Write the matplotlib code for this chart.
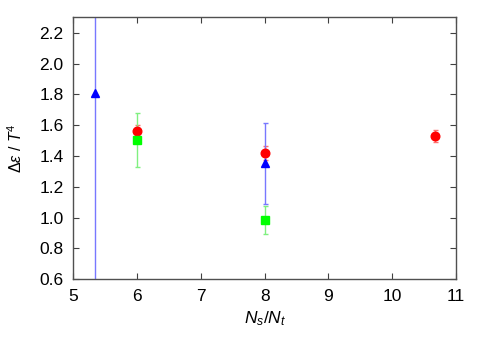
import numpy as np
from matplotlib import pyplot as plt

plt.rcParams['font.family'] = ['Liberation Sans', 'DejaVu Sans']
plt.rcParams['mathtext.fontset'] = 'custom'
plt.rcParams['mathtext.it'] = 'Liberation Sans:italic'
plt.rcParams['mathtext.rm'] = 'Liberation Sans'

# data
red_x = [6.0, 8.0, 32 / 3]
red_y = [1.563, 1.417, 1.528]
red_err = [0.04, 0.045, 0.04]

green_x = [6.0, 8.0]
green_y = [1.506, 0.984]
green_err = [0.175, 0.09]

blue_x = [16 / 3, 8.0]
blue_y = [1.81, 1.352]
blue_err = [1.6, 0.265]

fig = plt.figure(figsize=(4.91, 3.43), dpi=100)
axes = fig.add_axes([73.3 / 491, 1 - 279.3 / 343, (456 - 73.3) / 491, (279.3 - 17.3) / 343])

axes.errorbar(red_x, red_y, yerr=red_err, fmt='none', ecolor='#ff7070',
              elinewidth=1, capsize=1.8, capthick=1)
axes.errorbar(green_x, green_y, yerr=green_err, fmt='none', ecolor='#80f080',
              elinewidth=1, capsize=1.8, capthick=1)
axes.errorbar(blue_x, blue_y, yerr=blue_err, fmt='none', ecolor='#7878ff',
              elinewidth=1, capsize=1.8, capthick=1)
axes.plot(red_x, red_y, 'o', color='#ff0000', markersize=6.2, linestyle='none')
axes.plot(green_x, green_y, 's', color='#00ff00', markersize=6, linestyle='none')
axes.plot(blue_x, blue_y, '^', color='#0000ff', markersize=5.5, linestyle='none')

axes.set_xlim(5, 11)
axes.set_ylim(0.6, 2.3)
axes.set_xticks(np.arange(5, 12, 1))
axes.set_yticks(np.arange(0.6, 2.21, 0.2))
axes.set_yticklabels(['%.1f' % v for v in np.arange(0.6, 2.21, 0.2)])
axes.tick_params(direction='in', top=True, right=True, length=4, width=0.8,
                 color='#404040', labelsize=12.5, pad=7)
for sp in axes.spines.values():
    sp.set_color('#505050')
    sp.set_linewidth(1)

axes.set_xlabel('$N_s/N_t$', fontsize=12.5, labelpad=4)
axes.set_ylabel(r'$\Delta\epsilon$ / $T^4$', fontsize=11.5, labelpad=10)

plt.savefig('out.png', dpi=100)
